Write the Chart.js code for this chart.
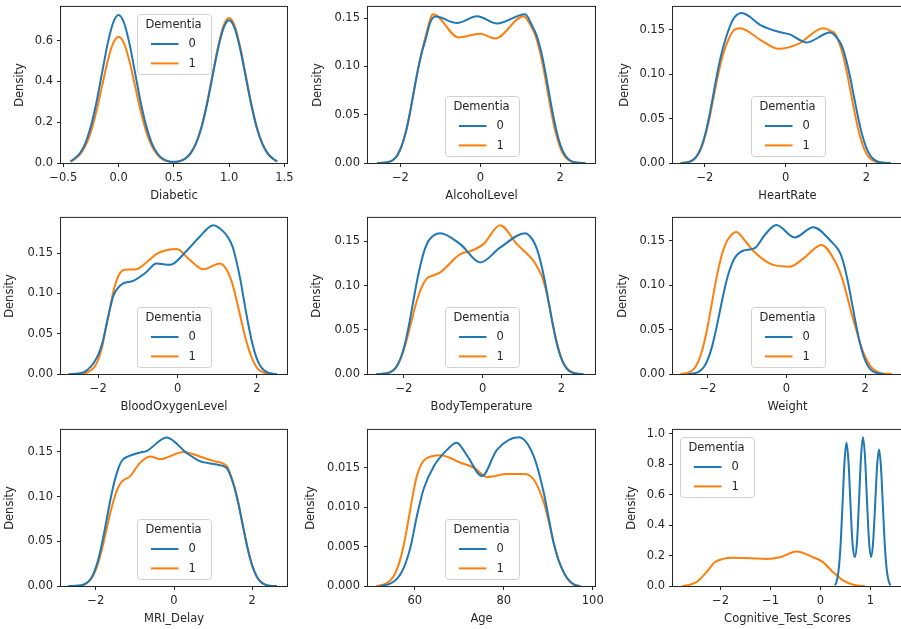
<!DOCTYPE html>
<html><head><meta charset="utf-8">
<script src="https://cdn.jsdelivr.net/npm/chart.js@4/dist/chart.umd.min.js"></script>
<style>
html,body{margin:0;padding:0;background:#fff;}
body{width:901px;height:629px;overflow:hidden;position:relative;}
canvas{position:absolute;}
</style></head><body>
<script>
// ---------- text ----------
const legendTitle = 'Dementia';
const seriesLabels = ['0', '1'];
const panelNames = ['Diabetic','AlcoholLevel','HeartRate','BloodOxygenLevel','BodyTemperature','Weight','MRI_Delay','Age','Cognitive_Test_Scores'];

// ---------- Diabetic ----------
const diabX  = [-0.435,-0.4,-0.35,-0.3,-0.25,-0.2,-0.15,-0.1,-0.05,0,0.05,0.1,0.15,0.2,0.25,0.3,0.35,0.4,0.45,0.5,0.55,0.6,0.65,0.7,0.75,0.8,0.85,0.9,0.95,1.0,1.05,1.1,1.15,1.2,1.25,1.3,1.35,1.4,1.435];
const diabY0 = [0.008,0.021,0.048,0.098,0.181,0.298,0.441,0.582,0.687,0.726,0.687,0.582,0.441,0.298,0.181,0.098,0.048,0.021,0.009,0.006,0.009,0.020,0.046,0.095,0.174,0.288,0.425,0.561,0.662,0.700,0.662,0.561,0.425,0.288,0.174,0.095,0.046,0.020,0.008];
const diabY1 = [0.007,0.018,0.041,0.084,0.154,0.255,0.376,0.497,0.587,0.620,0.587,0.497,0.376,0.255,0.154,0.084,0.041,0.018,0.008,0.005,0.009,0.021,0.047,0.096,0.177,0.293,0.432,0.570,0.674,0.712,0.674,0.570,0.432,0.293,0.177,0.096,0.047,0.020,0.008];

// ---------- AlcoholLevel ----------
const alcX0 = [-2.58,-2.37,-2.27,-2.17,-2.07,-1.97,-1.87,-1.77,-1.67,-1.57,-1.47,-1.37,-1.25,-1.12,-0.58,-0.08,0.42,1.12,1.31,1.41,1.51,1.61,1.71,1.81,1.91,2.01,2.11,2.21,2.31,2.41,2.63];
const alcY0 = [0,0.0004,0.0014,0.0036,0.0084,0.0174,0.031,0.050,0.0725,0.0946,0.1136,0.128,0.146,0.1517,0.145,0.152,0.1445,0.154,0.141,0.132,0.1175,0.098,0.075,0.052,0.0325,0.018,0.0087,0.0038,0.0014,0.00045,0];
const alcX1 = [-2.58,-2.37,-2.27,-2.17,-2.07,-1.97,-1.87,-1.77,-1.67,-1.57,-1.47,-1.37,-1.18,-0.54,0.0,0.375,1.08,1.28,1.38,1.48,1.58,1.68,1.78,1.88,1.98,2.08,2.18,2.28,2.38,2.6];
const alcY1 = [0,0.0004,0.0014,0.0036,0.0084,0.0174,0.031,0.050,0.0725,0.0946,0.1136,0.131,0.154,0.130,0.134,0.129,0.152,0.141,0.132,0.1175,0.098,0.075,0.052,0.0325,0.018,0.0087,0.0038,0.0014,0.00045,0];

// ---------- HeartRate ----------
const hrX0 = [-2.6,-2.48,-2.38,-2.28,-2.18,-2.08,-1.98,-1.88,-1.78,-1.68,-1.58,-1.48,-1.3,-1.09,-0.6,-0.22,0.1,0.52,1.1,1.29,1.39,1.49,1.59,1.69,1.79,1.89,1.99,2.09,2.19,2.29,2.39,2.6];
const hrY0 = [0,0.0005,0.0015,0.004,0.0093,0.0192,0.0346,0.0556,0.08,0.1044,0.125,0.141,0.162,0.169,0.155,0.1485,0.145,0.136,0.147,0.140,0.132,0.1175,0.098,0.075,0.052,0.0325,0.018,0.0087,0.0038,0.0014,0.00045,0];
const hrX1 = [-2.6,-2.48,-2.38,-2.28,-2.18,-2.08,-1.98,-1.88,-1.78,-1.68,-1.58,-1.48,-1.3,-1.13,-0.6,-0.18,0.3,0.93,1.15,1.22,1.32,1.42,1.52,1.62,1.72,1.82,1.92,2.02,2.12,2.22,2.32,2.52];
const hrY1 = [0,0.0005,0.0014,0.0038,0.0087,0.018,0.0325,0.052,0.075,0.098,0.1175,0.132,0.149,0.152,0.138,0.1287,0.134,0.152,0.148,0.146,0.136,0.1215,0.101,0.0775,0.054,0.0336,0.0186,0.009,0.0039,0.0015,0.0005,0];

// ---------- BloodOxygenLevel ----------
const boX0 = [-2.75,-2.5,-2.35,-2.2,-2.1,-2.0,-1.9,-1.79,-1.7,-1.62,-1.5,-1.37,-1.12,-0.8,-0.53,-0.19,0.23,0.55,0.9,1.15,1.28,1.38,1.48,1.58,1.68,1.78,1.88,1.98,2.08,2.18,2.28,2.38,2.5];
const boY0 = [0,0.0006,0.0025,0.0085,0.015,0.024,0.038,0.062,0.082,0.097,0.107,0.1125,0.1155,0.126,0.137,0.1355,0.153,0.170,0.1846,0.177,0.169,0.159,0.141,0.118,0.09,0.0626,0.039,0.0216,0.0104,0.0045,0.0017,0.0005,0];
const boX1 = [-2.66,-2.4,-2.25,-2.1,-2.0,-1.9,-1.8,-1.70,-1.6,-1.5,-1.4,-1.33,-1.04,-0.75,-0.53,-0.02,0.3,0.65,1.07,1.25,1.4,1.5,1.6,1.7,1.8,1.9,2.0,2.1,2.2,2.42];
const boY1 = [0,0.0005,0.0025,0.0085,0.018,0.034,0.059,0.083,0.106,0.121,0.128,0.1294,0.130,0.140,0.149,0.155,0.142,0.130,0.137,0.128,0.109,0.089,0.068,0.047,0.030,0.017,0.008,0.0035,0.0013,0];

// ---------- BodyTemperature ----------
const btX0 = [-2.7,-2.47,-2.37,-2.27,-2.17,-2.07,-1.97,-1.87,-1.77,-1.67,-1.57,-1.47,-1.37,-1.08,-0.57,-0.06,0.44,1.08,1.28,1.38,1.48,1.58,1.68,1.78,1.88,1.98,2.08,2.18,2.28,2.38,2.56];
const btY0 = [0,0.0005,0.0015,0.004,0.0093,0.0192,0.0346,0.0556,0.08,0.1044,0.125,0.141,0.151,0.1594,0.147,0.1263,0.143,0.1594,0.151,0.141,0.125,0.1044,0.08,0.0556,0.0346,0.0192,0.0093,0.004,0.0015,0.0005,0];
const btX1 = [-2.62,-2.42,-2.32,-2.22,-2.12,-2.02,-1.92,-1.82,-1.72,-1.62,-1.52,-1.42,-1.29,-1.08,-0.57,-0.32,0.02,0.44,0.87,1.29,1.4,1.5,1.6,1.7,1.8,1.9,2.0,2.1,2.2,2.3,2.4,2.5];
const btY1 = [0,0.0011,0.0029,0.0067,0.0138,0.025,0.040,0.0575,0.075,0.090,0.101,0.108,0.111,0.115,0.1357,0.139,0.147,0.1684,0.147,0.128,0.12,0.111,0.096,0.075,0.052,0.0325,0.018,0.0087,0.0038,0.0014,0.0004,0];

// ---------- Weight ----------
const wX0 = [-2.5,-2.4,-2.3,-2.2,-2.1,-2.0,-1.9,-1.8,-1.7,-1.6,-1.5,-1.4,-1.3,-1.11,-0.81,-0.55,-0.26,0.21,0.68,1.19,1.27,1.37,1.47,1.57,1.67,1.77,1.87,1.97,2.07,2.17,2.27,2.37,2.5];
const wY0 = [0,0.0004,0.0013,0.0035,0.0081,0.0168,0.0303,0.0487,0.07,0.0914,0.1097,0.123,0.132,0.139,0.1418,0.157,0.168,0.154,0.1654,0.147,0.143,0.136,0.122,0.1024,0.079,0.0556,0.0346,0.0192,0.0093,0.004,0.0015,0.0005,0];
const wX1 = [-2.7,-2.6,-2.5,-2.4,-2.3,-2.2,-2.1,-2.0,-1.9,-1.8,-1.7,-1.6,-1.5,-1.28,-1.05,-0.85,-0.34,0.08,0.42,0.89,1.27,1.4,1.53,1.65,1.78,1.9,2.03,2.15,2.27,2.4,2.68];
const wY1 = [0,0.0005,0.0015,0.004,0.0093,0.0192,0.0346,0.0556,0.08,0.1044,0.125,0.141,0.151,0.160,0.150,0.139,0.123,0.121,0.1298,0.1455,0.124,0.110,0.090,0.069,0.049,0.031,0.017,0.008,0.0035,0.001,0];

// ---------- MRI_Delay ----------
const mX0 = [-2.7,-2.42,-2.32,-2.22,-2.12,-2.02,-1.92,-1.82,-1.72,-1.62,-1.52,-1.42,-1.32,-1.17,-0.87,-0.70,-0.19,0.32,0.66,1.09,1.35,1.45,1.55,1.65,1.75,1.85,1.95,2.05,2.15,2.25,2.35,2.45,2.63];
const mY0 = [0,0.00045,0.0014,0.0038,0.0087,0.018,0.0325,0.052,0.075,0.098,0.1175,0.132,0.141,0.145,0.1493,0.151,0.1663,0.149,0.1397,0.136,0.132,0.123,0.1097,0.0914,0.07,0.0487,0.0303,0.0168,0.0081,0.0035,0.0013,0.0004,0];
const mX1 = [-2.7,-2.43,-2.33,-2.23,-2.13,-2.03,-1.93,-1.83,-1.73,-1.63,-1.53,-1.43,-1.33,-1.12,-0.87,-0.61,-0.36,0.24,0.66,1.0,1.35,1.45,1.55,1.65,1.75,1.85,1.95,2.05,2.15,2.25,2.35,2.45,2.63];
const mY1 = [0,0.0004,0.0012,0.0031,0.0073,0.015,0.027,0.0434,0.0625,0.0816,0.098,0.11,0.117,0.123,0.1378,0.145,0.142,0.150,0.145,0.140,0.134,0.124,0.110,0.092,0.07,0.0487,0.0303,0.0168,0.0081,0.0035,0.0013,0.0004,0];

// ---------- Age ----------
const aX0 = [52.3,54.5,56.0,57.2,58.2,59.2,60.5,62.0,64.3,67.3,69.4,71.8,75.1,78.5,83.4,86.7,89.0,90.1,91.2,92.3,93.5,94.5,95.7,97.2];
const aY0 = [0,0.0003,0.0009,0.0019,0.0033,0.0053,0.0089,0.0123,0.0152,0.0173,0.01816,0.0165,0.01395,0.0173,0.01887,0.0165,0.0118,0.0086,0.0055,0.0033,0.0017,0.0008,0.0002,0];
const aX1 = [51.4,53.5,54.5,55.5,56.5,57.5,58.5,59.5,60.5,62.4,65.8,70.3,73.3,76.3,80.8,84.5,86.7,89.0,90.1,91.2,92.3,93.5,94.5,95.7,97.2];
const aY1 = [0,0.0003,0.0007,0.0015,0.0029,0.0051,0.0081,0.0113,0.0140,0.0161,0.0166,0.01563,0.0150,0.01383,0.0142,0.0142,0.01354,0.0106,0.0082,0.0055,0.0033,0.0017,0.0008,0.0002,0];

// ---------- Cognitive_Test_Scores ----------
const cX0 = [0.29,0.32,0.36,0.40,0.44,0.48,0.52,0.56,0.60,0.64,0.685,0.73,0.77,0.81,0.85,0.89,0.93,0.97,1.01,1.05,1.09,1.13,1.17,1.21,1.25,1.29,1.33,1.37,1.40];
const cY0 = [0.004,0.027,0.097,0.261,0.532,0.815,0.94,0.816,0.536,0.281,0.19,0.290,0.556,0.847,0.976,0.847,0.558,0.297,0.19,0.277,0.513,0.778,0.896,0.777,0.507,0.249,0.092,0.026,0.004];
const cX1 = [-2.76,-2.62,-2.48,-2.28,-2.11,-1.95,-1.75,-1.4,-1.08,-0.81,-0.48,-0.15,0.05,0.25,0.45,0.65,0.77,0.89];
const cY1 = [0,0.008,0.026,0.091,0.157,0.178,0.185,0.183,0.178,0.189,0.226,0.189,0.157,0.091,0.037,0.009,0.002,0];

// ---------- ticks & ranges ----------
const xTicks = [[-0.5,0,0.5,1,1.5],[-2,0,2],[-2,0,2],[-2,0,2],[-2,0,2],[-2,0,2],[-2,0,2],[60,80,100],[-2,-1,0,1]];
const xTickDecimals = [1,0,0,0,0,0,0,0,0];
const yTicks = [[0,0.2,0.4,0.6],[0,0.05,0.1,0.15],[0,0.05,0.1,0.15],[0,0.05,0.1,0.15],[0,0.05,0.1,0.15],[0,0.05,0.1,0.15],[0,0.05,0.1,0.15],[0,0.005,0.01,0.015],[0,0.2,0.4,0.6,0.8,1.0]];
const yTickDecimals = [1,2,2,2,2,2,2,3,1];
const xMins = [-0.521,-2.81,-2.79,-2.94,-2.91,-2.89,-2.89,49.5,-2.95];
const xMaxs = [1.524,2.87,2.88,2.76,2.85,2.94,2.89,100.5,1.63];
const yMaxs = [0.766,0.1617,0.176,0.1937,0.1767,0.176,0.1747,0.0198,1.025];

const seriesData = [
  [[diabX,diabY0],[diabX,diabY1]],
  [[alcX0,alcY0],[alcX1,alcY1]],
  [[hrX0,hrY0],[hrX1,hrY1]],
  [[boX0,boY0],[boX1,boY1]],
  [[btX0,btY0],[btX1,btY1]],
  [[wX0,wY0],[wX1,wY1]],
  [[mX0,mY0],[mX1,mY1]],
  [[aX0,aY0],[aX1,aY1]],
  [[cX0,cY0],[cX1,cY1]]
];

// ---------- layout & style ----------
const COLORS = ['#1f77b4', '#ff7f0e'];
const FONT = "'DejaVu Sans', sans-serif";
const FS = 11.5;
const cols = [[61,287],[368,595],[673,902]];
const rows = [[6,163],[217,374],[429,586]];
const titleOff = [41,50,48,51,51,50,51,57,41];
const legendLoc = ['uc','lc','lc','lc','lc','lc','lc','lc','ul'];
const PAD_T = 10, PAD_R = 20, PAD_B = 2, XH = 40;

Chart.defaults.font.family = FONT;
Chart.defaults.font.size = FS;
Chart.defaults.color = '#262626';

const fmt = (v, d) => (v < 0 ? '\u2212' : '') + Math.abs(v).toFixed(d);

const framePlugin = {
  id: 'frame',
  afterDatasetsDraw(chart) {
    const {ctx, chartArea: a} = chart;
    ctx.save();
    ctx.strokeStyle = '#262626';
    ctx.lineWidth = 1;
    ctx.strokeRect(a.left - 0.5, a.top - 0.5, a.right - a.left + 1, a.bottom - a.top + 1);
    ctx.restore();
  }
};

const kdeLegend = {
  id: 'kdeLegend',
  afterDraw(chart, args, opts) {
    const {ctx, chartArea: a} = chart;
    const w = 74, h = 60, m = 7;
    let x, y;
    if (opts.loc === 'uc') { x = (a.left + a.right) / 2 - w / 2; y = a.top + m; }
    else if (opts.loc === 'lc') { x = (a.left + a.right) / 2 - w / 2; y = a.bottom - m - h; }
    else { x = a.left + m; y = a.top + m; }
    x = Math.round(x) + 0.5; y = Math.round(y) + 0.5;
    ctx.save();
    ctx.beginPath();
    if (ctx.roundRect) ctx.roundRect(x, y, w, h, 3); else ctx.rect(x, y, w, h);
    ctx.fillStyle = 'rgba(255,255,255,0.8)';
    ctx.fill();
    ctx.strokeStyle = '#d0d0d0';
    ctx.lineWidth = 1;
    ctx.stroke();
    ctx.font = FS + 'px ' + FONT;
    ctx.fillStyle = '#262626';
    ctx.textBaseline = 'middle';
    ctx.textAlign = 'center';
    ctx.fillText(legendTitle, x + w / 2 - 1, y + 10.5);
    chart.data.datasets.forEach((ds, i) => {
      const ly = y + 29.5 + 19.4 * i;
      ctx.beginPath();
      ctx.moveTo(x + 13.5, ly);
      ctx.lineTo(x + 41, ly);
      ctx.strokeStyle = ds.borderColor;
      ctx.lineWidth = 2;
      ctx.stroke();
      ctx.textAlign = 'left';
      ctx.fillText(ds.label, x + 51, ly + 0.5);
    });
    ctx.restore();
  }
};

for (let i = 0; i < 9; i++) {
  const [L, R] = cols[i % 3];
  const [T, B] = rows[Math.floor(i / 3)];
  const W = Math.round(titleOff[i] + 7);
  const cv = document.createElement('canvas');
  const cw = R - L + W + PAD_R, ch = B - T + PAD_T + XH + PAD_B;
  cv.width = cw; cv.height = ch;
  cv.style.left = (L - W) + 'px';
  cv.style.top = (T - PAD_T) + 'px';
  cv.style.width = cw + 'px'; cv.style.height = ch + 'px';
  document.body.appendChild(cv);

  const datasets = seriesData[i].map((s, k) => ({
    label: seriesLabels[k],
    data: s[0].map((xv, j) => ({x: xv, y: s[1][j]})),
    borderColor: COLORS[k],
    borderWidth: 2,
    pointRadius: 0,
    fill: false,
    cubicInterpolationMode: 'monotone'
  }));

  new Chart(cv, {
    type: 'line',
    data: {datasets},
    plugins: [framePlugin, kdeLegend],
    options: {
      responsive: false,
      animation: false,
      events: [],
      layout: {padding: {left: 0, top: PAD_T, right: PAD_R, bottom: PAD_B}},
      plugins: {
        legend: {display: false},
        tooltip: {enabled: false},
        kdeLegend: {loc: legendLoc[i]}
      },
      scales: {
        x: {
          type: 'linear',
          min: xMins[i], max: xMaxs[i],
          afterBuildTicks: s => { s.ticks = xTicks[i].map(v => ({value: v})); },
          afterFit: s => { s.height = XH; },
          ticks: {callback: v => fmt(v, xTickDecimals[i]), maxRotation: 0, autoSkip: false, padding: 4, color: '#262626'},
          grid: {display: true, drawOnChartArea: false, drawTicks: true, tickLength: 4, color: '#262626', lineWidth: 1},
          border: {display: false},
          title: {display: true, text: panelNames[i], padding: 0, color: '#262626', font: {size: FS}}
        },
        y: {
          type: 'linear',
          min: 0, max: yMaxs[i],
          afterBuildTicks: s => { s.ticks = yTicks[i].map(v => ({value: v})); },
          afterFit: s => { s.width = W; },
          ticks: {callback: v => fmt(v, yTickDecimals[i]), padding: 4, color: '#262626'},
          grid: {display: true, drawOnChartArea: false, drawTicks: true, tickLength: 4, color: '#262626', lineWidth: 1},
          border: {display: false},
          title: {display: true, text: 'Density', padding: 0, color: '#262626', font: {size: FS}}
        }
      }
    }
  });
}
</script>
</body></html>
